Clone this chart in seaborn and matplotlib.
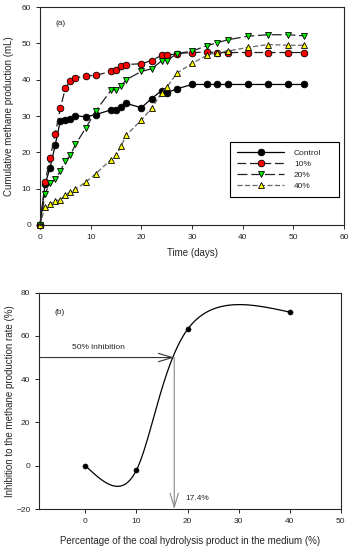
import numpy as np
import pandas as pd
import matplotlib
matplotlib.use('Agg')
import matplotlib.pyplot as plt
import seaborn as sns

# panel (a) data
days = [0, 1, 2, 3, 4, 5, 6, 7, 9, 11, 14, 15, 16, 17, 20, 22, 24, 25, 27, 30, 33, 35, 37, 41, 45, 49, 52]
control = [0, 11.2, 15.8, 22.0, 28.6, 28.9, 29.2, 30.1, 29.8, 30.4, 31.7, 31.8, 32.4, 33.5, 32.3, 34.8,
           37.0, 36.4, 37.5, 38.7, 38.7, 38.7, 38.7, 38.7, 38.7, 38.7, 38.7]
pct10 = [0, 11.7, 18.5, 25.0, 32.1, 37.6, 39.7, 40.5, 41.1, 41.2, 42.3, 42.7, 43.9, 44.2, 44.4, 45.3,
         46.7, 46.7, 47.2, 47.5, 47.6, 47.5, 47.5, 47.5, 47.5, 47.5, 47.5]
pct20 = [0, 8.6, 11.5, 12.6, 14.8, 17.6, 19.2, 22.2, 26.6, 31.4, 37.1, 37.2, 38.3, 40.0, 42.3, 43.0,
         45.2, 45.2, 47.2, 47.9, 49.4, 50.2, 51.0, 52.0, 52.4, 52.4, 52.1]
pct40 = [0, 5.0, 5.8, 6.7, 6.9, 8.3, 9.1, 9.8, 11.8, 14.1, 18.0, 19.2, 21.7, 24.7, 28.9, 32.1,
         36.4, 37.9, 41.8, 44.5, 46.8, 47.5, 47.9, 48.9, 49.7, 49.5, 49.5]
series_names = ['Control', '10%', '20%', '40%']

# panel (b) data
hydro_pct = [0, 10, 20, 40]
inhibition = [0, -2, 63, 71]
ic50_x = 17.4
ic50_y = 50


def natural_spline(t, v, tt):
    t = np.asarray(t, float); v = np.asarray(v, float)
    n = len(t); h = np.diff(t)
    A = np.zeros((n, n)); r = np.zeros(n)
    A[0, 0] = A[-1, -1] = 1
    for i in range(1, n - 1):
        A[i, i - 1] = h[i - 1]; A[i, i] = 2 * (h[i - 1] + h[i]); A[i, i + 1] = h[i]
        r[i] = 6 * ((v[i + 1] - v[i]) / h[i] - (v[i] - v[i - 1]) / h[i - 1])
    M = np.linalg.solve(A, r)
    out = []
    for s in tt:
        i = min(max(np.searchsorted(t, s, side='right') - 1, 0), n - 2)
        a = t[i + 1] - s; b = s - t[i]; hi = h[i]
        out.append(M[i] * a**3 / (6 * hi) + M[i + 1] * b**3 / (6 * hi)
                   + (v[i] / hi - M[i] * hi / 6) * a + (v[i + 1] / hi - M[i + 1] * hi / 6) * b)
    return np.array(out)


sns.set_style('ticks')
plt.rcParams['font.family'] = ['Liberation Sans', 'DejaVu Sans']
plt.rcParams['xtick.direction'] = 'out'
plt.rcParams['ytick.direction'] = 'out'

fig = plt.figure(figsize=(3.52, 5.5), dpi=100)
ax1 = fig.add_axes([0.1136, 0.591, 0.864, 0.396])
ax2 = fig.add_axes([0.112, 0.0745, 0.856, 0.3935])

# panel (a)
df = pd.DataFrame({'day': days, 'Control': control, '10%': pct10, '20%': pct20, '40%': pct40})
styles = {
    'Control': dict(marker='o', markerfacecolor='black', linestyle='-', color='black'),
    '10%': dict(marker='o', markerfacecolor='red', linestyle=(0, (7, 3)), color='#222222'),
    '20%': dict(marker='v', markerfacecolor='#00ee00', linestyle=(0, (8, 3)), color='#222222'),
    '40%': dict(marker='^', markerfacecolor='#ffff00', linestyle=(0, (4, 2)), color='#666666'),
}
for name in series_names:
    sns.lineplot(data=df, x='day', y=name, ax=ax1, sort=False, estimator=None,
                 markersize=4.8, markeredgecolor='black', markeredgewidth=0.6,
                 linewidth=0.9, label=name, clip_on=False, **styles[name])

ax1.set_xlim(0, 60)
ax1.set_ylim(0, 60)
ax1.set_xticks(range(0, 61, 10))
ax1.set_yticks(range(0, 61, 10))
ax1.set_xlabel('Time (days)', fontsize=7, labelpad=5)
ax1.set_ylabel('Cumulative methane production (mL)', fontsize=7)
ax1.yaxis.set_label_coords(-0.085, 0.5)
ax1.tick_params(labelsize=6, length=3, width=0.7, top=False, right=False)
ax1.text(0.05, 0.92, '(a)', transform=ax1.transAxes, fontsize=6)
leg = ax1.legend(loc='lower left', bbox_to_anchor=(0.612, 0.107, 0.385, 0.26), mode='expand',
                 fontsize=6, handlelength=5.6, handletextpad=1.2, labelspacing=0.4, borderpad=0.85,
                 fancybox=False, framealpha=1, edgecolor='black')
leg.get_frame().set_linewidth(0.8)

# panel (b): parametric natural spline through the points
par = np.arange(len(hydro_pct))
tt = np.linspace(0, len(hydro_pct) - 1, 300)
curve = pd.DataFrame({'x': natural_spline(par, hydro_pct, tt), 'y': natural_spline(par, inhibition, tt)})
sns.lineplot(data=curve, x='x', y='y', ax=ax2, sort=False, estimator=None, color='black', linewidth=0.9)
sns.scatterplot(x=hydro_pct, y=inhibition, ax=ax2, color='black', edgecolor='black', s=14, zorder=3)

ax2.annotate('', xy=(ic50_x, ic50_y), xytext=(-9, ic50_y),
             arrowprops=dict(arrowstyle='->,head_length=1.0,head_width=0.3', color='#333333',
                             lw=0.8, shrinkA=0, shrinkB=0, mutation_scale=10))
ax2.annotate('', xy=(ic50_x, -20), xytext=(ic50_x, ic50_y),
             arrowprops=dict(arrowstyle='->,head_length=1.0,head_width=0.3', color='#888888',
                             lw=0.8, shrinkA=0, shrinkB=0, mutation_scale=10))
ax2.text(2.5, 53, '50% inhibition', fontsize=6, ha='center', va='bottom')
ax2.text(19.6, -15, f'{ic50_x}%', fontsize=6, ha='left', va='center')
ax2.text(0.05, 0.9, '(b)', transform=ax2.transAxes, fontsize=6)

ax2.set_xlim(-9, 50)
ax2.set_ylim(-20, 80)
ax2.set_xticks(range(0, 51, 10))
ax2.set_yticks(range(-20, 81, 20))
ax2.set_xlabel('Percentage of the coal hydrolysis product in the medium (%)', fontsize=7, labelpad=8)
ax2.set_ylabel('Inhibition to the methane production rate (%)', fontsize=7)
ax2.yaxis.set_label_coords(-0.082, 0.5)
ax2.tick_params(labelsize=6, length=3, width=0.7, top=False, right=False)

for ax in (ax1, ax2):
    for sp in ax.spines.values():
        sp.set_linewidth(0.8)
        sp.set_visible(True)

fig.savefig('out.png', dpi=100)
